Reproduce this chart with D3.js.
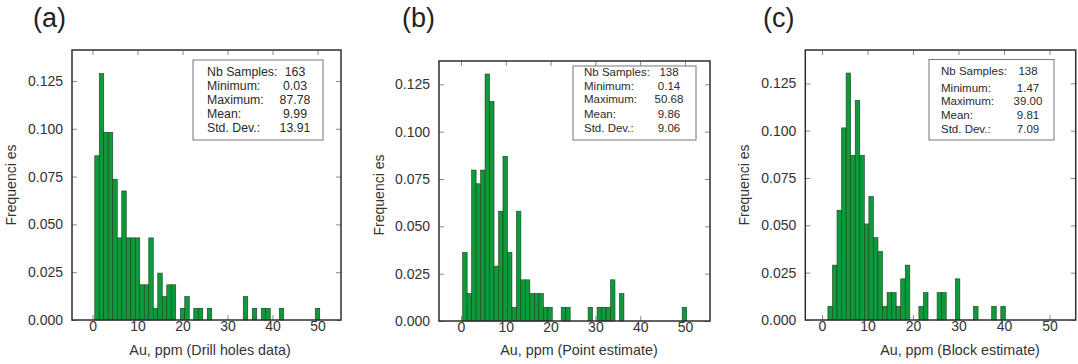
<!DOCTYPE html>
<html>
<head>
<meta charset="utf-8">
<script src="https://cdn.jsdelivr.net/npm/d3@7"></script>
<style>
  html, body { margin: 0; padding: 0; background: #ffffff; }
  svg { display: block; font-family: "Liberation Sans", Arial, Helvetica, sans-serif; }
</style>
</head>
<body>
<svg id="chart" width="1078" height="364"></svg>
<script>
// ---- data -------------------------------------------------------------
const panelLetters = ["(a)", "(b)", "(c)"];
const xTitles = ["Au, ppm (Drill holes data)", "Au, ppm (Point estimate)", "Au, ppm (Block estimate)"];
const yTitle = "Frequenci es";
const xTicks = [0, 10, 20, 30, 40, 50];
const yTicks = [0, 0.025, 0.05, 0.075, 0.1, 0.125];

const statLabels = ["Nb Samples:", "Minimum:", "Maximum:", "Mean:", "Std. Dev.:"];
const statsDrill = ["163", "0.03", "87.78", "9.99", "13.91"];
const statsPoint = ["138", "0.14", "50.68", "9.86", "9.06"];
const statsBlock = ["138", "1.47", "39.00", "9.81", "7.09"];

const sampleSizes = [163, 138, 138];
// lower edge of the first 1-ppm class of each histogram
const binOrigins = [0.5, 0.37, 0.3];
const binWidth = 1;

// sample counts per 1-ppm class
const countsDrill = [14, 21, 16, 16, 12, 7, 11, 7, 7, 7, 3, 3, 7, 1, 4, 2, 3, 3, 0, 1,
                     2, 0, 1, 1, 0, 1, 0, 0, 0, 0, 0, 0, 0, 2, 0, 1, 0, 1, 1, 0,
                     0, 1, 0, 0, 0, 0, 0, 0, 0, 1];
const countsPoint = [5, 2, 11, 10, 11, 18, 16, 4, 8, 12, 5, 1, 8, 3, 3, 2, 2, 2, 1, 1,
                     0, 0, 1, 1, 0, 0, 0, 0, 1, 0, 1, 1, 1, 3, 0, 2, 0, 0, 0, 0,
                     0, 0, 0, 0, 0, 0, 0, 0, 0, 1];
const countsBlock = [0, 1, 4, 8, 14, 18, 12, 16, 12, 7, 9, 6, 5, 1, 2, 2, 1, 3, 4, 0,
                     0, 1, 2, 0, 0, 2, 2, 0, 0, 3, 0, 0, 0, 1, 0, 0, 0, 1, 0, 1];

// ---- layout -----------------------------------------------------------
const layout = [
  { left: 72,    right: 341,    top: 50, bottom: 320, xDomain: [-4.56, 55.22], yMax: 0.1412,
    letterX: 33, yTitleX: 11, yTitleY: 185, xTitleX: 210,
    box: { x: 193, y: 60, w: 130, h: 80, labelX: 207, valueX: 295, font: 12.3, rows: [76, 90, 104, 118, 132] } },
  { left: 439,   right: 710,    top: 61, bottom: 321, xDomain: [-4.91, 55.58], yMax: 0.1373,
    letterX: 402, yTitleX: 379, yTitleY: 195, xTitleX: 579,
    box: { x: 573, y: 66, w: 123, h: 74, labelX: 584, valueX: 669, font: 11.5, rows: [75.5, 89.5, 103, 117.5, 131.5] } },
  { left: 805.3, right: 1075.7, top: 50, bottom: 320, xDomain: [-3.67, 55.76], yMax: 0.1426,
    letterX: 763, yTitleX: 744, yTitleY: 185, xTitleX: 960,
    box: { x: 929, y: 59.5, w: 125, h: 80.5, labelX: 941, valueX: 1028, font: 11.5, rows: [74.5, 91.5, 105, 118.5, 132.5] } }
];

const panels = [
  { counts: countsDrill, stats: statsDrill },
  { counts: countsPoint, stats: statsPoint },
  { counts: countsBlock, stats: statsBlock }
];

const svg = d3.select("#chart");

panels.forEach((p, i) => {
  const L = layout[i];
  const n = sampleSizes[i];
  const g = svg.append("g");

  const x = d3.scaleLinear().domain(L.xDomain).range([L.left, L.right]);
  const y = d3.scaleLinear().domain([0, L.yMax]).range([L.bottom, L.top]);

  // inward tick marks on all four sides
  const styleAxis = sel => {
    sel.select(".domain").remove();
    sel.selectAll(".tick line").attr("stroke", "#8a8a8a").attr("stroke-width", 1);
    sel.selectAll(".tick text")
      .attr("fill", "#333")
      .style("font-size", "14px")
      .style("font-family", "'Liberation Sans', Arial, sans-serif");
  };

  g.append("g").attr("transform", `translate(0,${L.bottom})`)
    .call(d3.axisBottom(x).tickValues(xTicks).tickSize(-5).tickPadding(1.5).tickFormat(d3.format("d")))
    .call(styleAxis);
  g.append("g").attr("transform", `translate(0,${L.top})`)
    .call(d3.axisTop(x).tickValues(xTicks).tickSize(-5).tickFormat(""))
    .call(styleAxis);
  g.append("g").attr("transform", `translate(${L.left},0)`)
    .call(d3.axisLeft(y).tickValues(yTicks).tickSize(-5).tickPadding(9).tickFormat(d3.format(".3f")))
    .call(styleAxis);
  g.append("g").attr("transform", `translate(${L.right},0)`)
    .call(d3.axisRight(y).tickValues(yTicks).tickSize(-5).tickFormat(""))
    .call(styleAxis);

  // histogram bars (relative frequency = count / number of samples)
  const bins = p.counts
    .map((c, k) => ({ x0: binOrigins[i] + k * binWidth, x1: binOrigins[i] + (k + 1) * binWidth, f: c / n }))
    .filter(d => d.f > 0);

  g.append("g").selectAll("rect").data(bins).join("rect")
    .attr("x", d => x(d.x0))
    .attr("width", d => x(d.x1) - x(d.x0))
    .attr("y", d => y(d.f))
    .attr("height", d => y(0) - y(d.f))
    .attr("fill", "#0e9a3a")
    .attr("stroke", "#1c3f22")
    .attr("stroke-width", 0.6);

  // plot frame
  g.append("rect")
    .attr("x", L.left).attr("y", L.top)
    .attr("width", L.right - L.left).attr("height", L.bottom - L.top)
    .attr("fill", "none").attr("stroke", "#2e2e2e").attr("stroke-width", 1.5);

  // summary statistics box
  const B = L.box;
  g.append("rect")
    .attr("x", B.x).attr("y", B.y).attr("width", B.w).attr("height", B.h)
    .attr("fill", "#fff").attr("stroke", "#777").attr("stroke-width", 1);
  const rows = g.append("g").style("font-size", `${B.font}px`).attr("fill", "#2a2a2a");
  statLabels.forEach((lab, r) => {
    rows.append("text").attr("x", B.labelX).attr("y", B.rows[r]).text(lab);
    rows.append("text").attr("x", B.valueX).attr("y", B.rows[r])
      .attr("text-anchor", "middle").text(p.stats[r]);
  });

  // titles
  g.append("text")
    .attr("x", L.letterX).attr("y", 26.5)
    .style("font-size", "27px").attr("fill", "#222")
    .text(panelLetters[i]);

  g.append("text")
    .attr("x", L.xTitleX).attr("y", 355)
    .attr("text-anchor", "middle")
    .style("font-size", "14.3px").attr("fill", "#333")
    .text(xTitles[i]);

  g.append("text")
    .attr("transform", `translate(${L.yTitleX + 4.8},${L.yTitleY}) rotate(-90)`)
    .attr("text-anchor", "middle")
    .style("font-size", "14px").attr("fill", "#333")
    .text(yTitle);
});
</script>
</body>
</html>
